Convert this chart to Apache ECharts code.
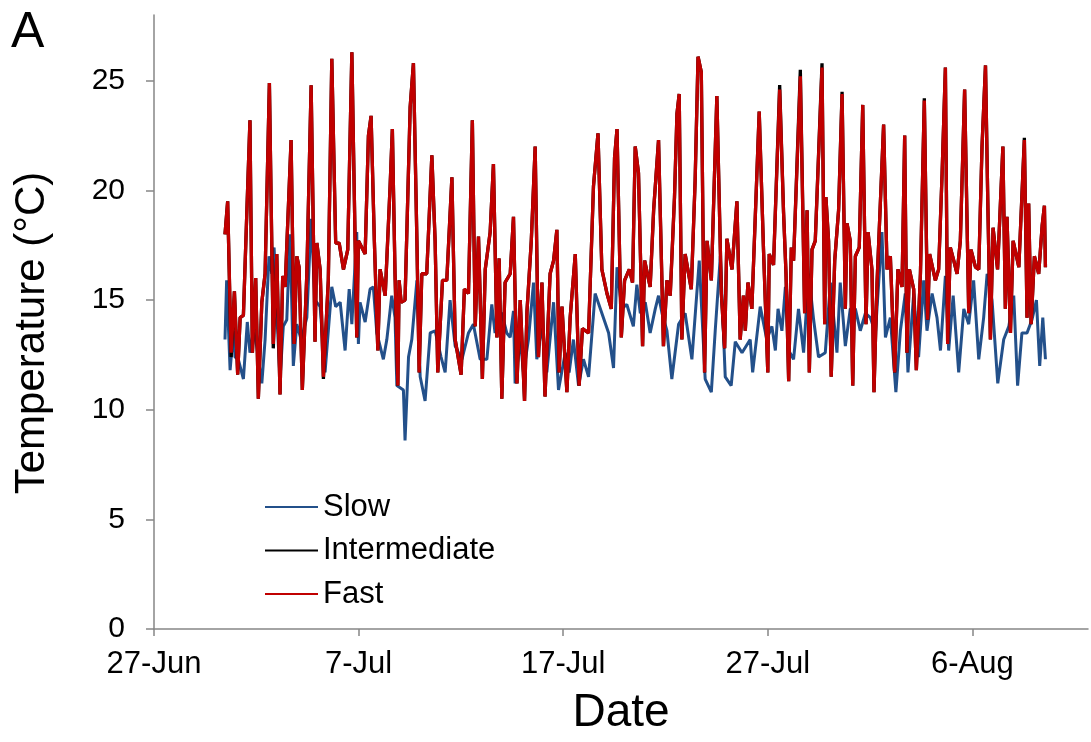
<!DOCTYPE html>
<html>
<head>
<meta charset="utf-8">
<script src="https://cdn.jsdelivr.net/npm/echarts@6/dist/echarts.min.js"></script>
<style>
html,body{margin:0;padding:0;background:#fff;}
#chart{width:1091px;height:742px;}
</style>
</head>
<body>
<div id="chart"></div>
<script>
// x values: days since 27-Jun
const tickDays = [0, 10, 20, 30, 40];
const tickLabels = ['27-Jun', '7-Jul', '17-Jul', '27-Jul', '6-Aug'];
const yTicks = [0, 5, 10, 15, 20, 25];
const seriesNames = ['Slow', 'Intermediate', 'Fast'];

const daysSlow = [3.47,3.55,3.72,3.88,3.96,4.12,4.37,4.56,4.69,4.86,5.02,5.27,5.43,5.62,5.76,5.87,6.00,6.16,6.32,6.49,6.65,6.81,6.98,7.19,7.47,7.68,7.87,8.12,8.36,8.52,8.69,8.88,9.10,9.34,9.54,9.67,9.91,
9.99,10.07,10.32,10.56,10.72,10.89,11.21,11.38,11.62,11.78,11.87,12.19,12.27,12.44,12.60,12.85,13.01,13.25,13.50,13.74,14.03,14.23,14.47,14.72,15.05,15.37,15.61,15.94,16.27,16.51,16.67,16.87,
17.00,17.24,17.41,17.57,17.65,17.90,18.06,18.30,18.55,18.71,18.96,19.20,19.53,19.77,20.10,20.29,20.50,20.75,20.99,21.24,21.56,21.89,22.22,22.46,22.63,22.86,23.11,23.43,23.60,
23.77,24.01,24.25,24.50,24.66,24.83,25.07,25.31,25.64,25.96,26.29,26.65,26.94,27.24,27.43,27.68,27.92,28.21,28.41,28.74,29.14,29.26,29.63,29.95,30.20,30.37,30.50,
30.69,30.86,31.02,31.26,31.50,31.75,32.00,32.24,32.48,32.81,33.06,33.38,33.54,33.79,34.03,34.28,34.52,34.77,35.01,35.26,35.58,35.75,35.99,36.26,36.48,36.72,36.85,37.13,37.37,
37.62,37.78,38.03,38.27,38.44,38.68,38.84,39.06,39.33,39.58,39.82,40.06,40.31,40.55,40.72,40.96,41.24,41.53,41.78,42.02,42.21,42.42,42.67,42.91,43.13,43.29,43.44,43.57];

const slow = [13.2,15.9,11.8,13.6,12.4,12.3,11.4,14.0,12.6,13.6,12.9,11.2,13.2,17.0,16.2,17.4,14.4,11.4,13.8,14.1,18.0,12.0,13.9,13.2,14.2,18.7,15.0,14.7,11.7,13.6,15.6,14.7,14.9,12.7,15.5,13.9,18.1,
13.0,14.9,14.0,15.5,15.6,13.5,12.3,13.2,15.2,14.2,11.1,10.9,8.6,12.4,13.2,15.9,11.5,10.4,13.5,13.6,12.4,11.7,15.0,12.9,12.3,13.5,13.9,12.3,12.3,14.8,13.5,14.4,
14.4,13.5,13.3,14.5,11.2,13.2,11.7,13.2,15.8,12.3,13.8,11.7,14.9,10.9,12.6,11.7,13.2,11.1,12.3,11.5,15.3,14.4,13.5,11.9,16.5,14.6,14.8,13.8,15.7,
14.4,14.9,13.5,14.6,15.2,14.4,13.6,11.4,13.9,14.4,12.3,16.8,11.4,10.8,13.6,17.0,11.5,11.1,13.1,12.6,13.2,11.7,14.7,13.2,13.8,12.7,14.6,
13.6,15.6,12.7,12.3,14.6,12.6,16.2,14.1,12.4,12.6,15.8,12.6,15.8,12.9,14.6,14.6,13.6,14.4,14.2,13.5,18.1,13.3,14.2,10.8,13.6,15.3,11.7,15.3,12.4,
15.9,13.6,15.3,14.2,12.7,16.1,12.7,15.2,11.7,14.6,13.9,15.9,12.3,14.2,16.2,15.0,11.2,13.2,13.8,15.2,11.1,13.5,13.5,14.1,15.0,12.0,14.2,12.3];

const daysFast = [3.47,3.60,3.77,3.93,4.09,4.21,4.37,4.53,4.69,4.81,4.97,5.10,5.27,5.43,5.64,5.83,6.00,6.16,6.29,6.41,6.70,6.85,6.98,7.09,7.25,7.47,7.68,7.87,7.96,8.12,8.28,8.52,8.69,8.88,9.05,9.26,9.47,9.67,9.91,
9.99,10.32,10.48,10.61,10.77,10.94,11.05,11.30,11.54,11.65,11.78,11.92,11.98,12.08,12.27,12.52,12.68,12.85,12.96,13.09,13.33,13.58,13.74,13.87,14.10,14.31,14.56,14.72,15.01,15.17,15.37,15.56,15.70,15.86,16.05,16.19,16.43,16.59,
16.76,16.87,17.00,17.16,17.41,17.57,17.74,17.90,18.11,18.23,18.44,18.63,18.79,18.96,19.11,19.36,19.53,19.69,19.80,19.94,20.18,20.34,20.59,20.78,20.94,21.24,21.48,21.70,21.89,22.14,22.35,22.51,22.63,22.84,23.00,23.23,23.39,23.52,
23.68,23.88,23.98,24.25,24.42,24.66,24.90,25.07,25.23,25.44,25.56,25.67,25.80,25.96,26.26,26.45,26.59,26.75,26.91,27.03,27.24,27.51,27.73,27.89,28.00,28.25,28.49,28.65,28.81,28.90,29.03,29.22,29.58,29.79,30.00,30.07,30.28,30.58,
30.77,30.89,31.02,31.15,31.26,31.59,31.80,31.92,32.03,32.16,32.32,32.65,32.78,32.84,32.97,33.10,33.27,33.46,33.63,33.79,33.87,34.03,34.15,34.28,34.47,34.64,34.80,34.90,35.09,35.19,35.34,35.66,35.83,35.99,36.20,36.36,36.56,36.69,36.80,36.92,37.13,
37.26,37.46,37.65,37.81,37.91,38.19,38.35,38.52,38.68,38.79,38.92,39.09,39.25,39.41,39.62,39.82,39.93,40.15,40.31,40.47,40.64,40.75,40.88,41.01,41.23,41.49,41.61,41.69,41.86,41.99,42.27,42.54,42.67,42.75,42.87,43.03,43.24,43.41,43.52,43.57];

const intermediate = [18.0,19.5,12.4,15.4,11.6,14.2,14.3,18.8,23.2,12.6,16.0,10.5,14.9,16.2,24.9,12.8,17.1,10.7,16.1,15.6,22.3,13.0,17.0,16.5,10.9,16.2,24.8,13.1,17.6,16.4,11.4,15.9,26.0,17.6,17.6,16.4,17.3,26.3,13.3,
17.7,17.1,22.5,23.4,17.7,12.7,16.4,15.2,20.2,22.8,16.2,11.1,15.9,14.9,15.0,23.8,25.8,17.7,11.7,16.2,16.2,21.6,17.7,11.7,15.9,15.9,20.6,13.2,11.6,15.5,15.3,23.2,13.8,17.9,11.4,16.4,18.1,21.2,
13.3,16.9,10.5,15.8,16.2,18.8,11.2,15.0,10.4,14.5,17.7,22.0,12.4,15.8,10.6,16.2,16.8,18.2,11.7,14.7,10.8,14.2,17.1,11.1,13.7,13.5,20.2,22.6,16.4,15.3,14.6,21.5,22.8,13.3,15.9,16.4,15.8,22.0,
20.8,12.9,16.8,15.6,19.1,22.3,12.9,15.9,15.2,19.7,23.5,24.4,13.2,17.1,15.5,20.5,26.1,25.4,11.7,17.7,15.9,24.3,15.3,12.8,17.8,16.4,19.5,13.2,15.2,13.6,15.8,14.6,23.6,17.3,11.7,17.1,16.6,24.8,
19.0,16.2,11.3,17.4,16.8,25.5,14.4,19.1,11.7,17.3,17.7,25.8,13.9,19.7,17.7,11.5,16.8,19.1,24.5,14.6,18.5,17.7,11.1,17.0,17.4,23.9,13.9,18.1,16.4,10.8,15.8,23.0,16.4,17.0,11.7,16.4,15.6,22.5,12.6,16.4,15.5,
11.8,16.2,24.2,14.1,17.1,15.9,16.4,20.8,25.6,13.0,17.4,16.8,16.2,17.7,24.6,14.4,17.3,16.5,16.4,22.0,25.7,19.6,13.2,18.3,16.4,22.0,14.6,18.8,13.5,17.7,16.5,22.4,14.2,19.4,13.9,17.0,16.2,18.4,19.3,16.5];

const fast = [18.0,19.5,12.6,15.4,11.6,14.2,14.3,18.8,23.2,12.6,16.0,10.5,14.9,16.2,24.9,13.0,17.1,10.7,16.1,15.6,22.3,13.0,17.0,16.5,10.9,16.2,24.8,13.1,17.6,16.4,11.5,15.9,26.0,17.6,17.6,16.4,17.3,26.3,13.3,
17.7,17.1,22.5,23.4,17.7,12.7,16.4,15.2,20.2,22.8,16.2,11.1,15.9,14.9,15.0,23.8,25.8,17.7,11.7,16.2,16.2,21.6,17.7,11.7,15.9,15.9,20.6,13.2,11.6,15.5,15.3,23.2,13.8,17.9,11.4,16.4,18.1,21.2,
13.3,16.9,10.5,15.8,16.2,18.8,11.2,15.0,10.4,14.5,17.7,22.0,12.4,15.8,10.6,16.2,16.8,18.2,11.7,14.7,10.8,14.2,17.1,11.1,13.7,13.5,20.2,22.6,16.4,15.3,14.6,21.5,22.8,13.3,15.9,16.4,15.8,22.0,
20.8,12.9,16.8,15.6,19.1,22.3,12.9,15.9,15.2,19.7,23.5,24.4,13.2,17.1,15.5,20.5,26.1,25.4,11.7,17.7,15.9,24.3,15.3,12.8,17.8,16.4,19.5,13.2,15.2,13.6,15.8,14.6,23.6,17.3,11.7,17.1,16.6,24.6,
19.0,16.2,11.3,17.4,16.8,25.2,14.4,19.1,11.7,17.3,17.7,25.6,13.9,19.7,17.7,11.5,16.8,19.1,24.4,14.6,18.5,17.7,11.1,17.0,17.4,23.9,13.9,18.1,16.4,10.8,15.8,23.0,16.4,17.0,11.7,16.4,15.6,22.5,12.6,16.4,15.5,
11.8,16.2,24.1,14.1,17.1,15.9,16.4,20.8,25.6,13.0,17.4,16.8,16.2,17.7,24.6,14.4,17.3,16.5,16.4,22.0,25.7,19.6,13.2,18.3,16.4,22.0,14.6,18.8,13.5,17.7,16.5,22.3,14.2,19.4,13.9,17.0,16.2,18.4,19.3,16.5];

const colors = ['#23508a', '#000000', '#c00000'];
const FONT = '"Liberation Sans", Arial, sans-serif';

function zip(xs, ys) { return xs.map((x, i) => [x, ys[i]]); }

const chart = echarts.init(document.getElementById('chart'), null, { renderer: 'canvas' });
chart.setOption({
  animation: false,
  backgroundColor: '#ffffff',
  color: colors,
  title: {
    text: 'A', left: 11, top: 8, padding: 0,
    textStyle: { fontFamily: FONT, fontSize: 50, fontWeight: 'normal', color: '#000', lineHeight: 50 }
  },
  grid: { left: 154, right: 3, top: 15, bottom: 113, containLabel: false },
  legend: {
    orient: 'vertical', left: 265, top: 491, padding: 0,
    icon: 'rect', itemWidth: 53, itemHeight: 2, itemGap: 11.5,
    textStyle: { fontFamily: FONT, fontSize: 31, color: '#000', lineHeight: 32 },
    data: seriesNames
  },
  xAxis: {
    type: 'value', min: 0, max: 45.65,
    name: 'Date', nameLocation: 'middle', nameGap: 61,
    nameTextStyle: { fontFamily: FONT, fontSize: 46, color: '#000', lineHeight: 46 },
    axisLine: { show: true, onZero: false, lineStyle: { color: '#868686', width: 1.5 } },
    axisTick: { show: true, inside: false, length: 7, customValues: tickDays, lineStyle: { color: '#868686', width: 1.5 } },
    axisLabel: {
      customValues: tickDays, margin: 20,
      fontFamily: FONT, fontSize: 31, color: '#000', lineHeight: 31,
      formatter: v => { const i = tickDays.indexOf(v); return i >= 0 ? tickLabels[i] : ''; }
    },
    splitLine: { show: false }
  },
  yAxis: {
    type: 'value', min: 0, max: 28,
    name: 'Temperature (°C)', nameLocation: 'middle', nameGap: 100,
    nameTextStyle: { fontFamily: FONT, fontSize: 42, color: '#000', lineHeight: 44, padding: [0, 22, 0, 0] },
    axisLine: { show: true, lineStyle: { color: '#868686', width: 1.5 } },
    axisTick: { show: true, inside: false, length: 8, customValues: yTicks, lineStyle: { color: '#868686', width: 1.5 } },
    axisLabel: { customValues: yTicks, margin: 29, fontFamily: FONT, fontSize: 30, color: '#000' },
    splitLine: { show: false }
  },
  series: [
    { name: seriesNames[0], type: 'line', data: zip(daysSlow, slow), showSymbol: false, symbol: 'none',
      lineStyle: { width: 3, color: colors[0] }, itemStyle: { color: colors[0] } },
    { name: seriesNames[1], type: 'line', data: zip(daysFast, intermediate), showSymbol: false, symbol: 'none',
      lineStyle: { width: 3.3, color: colors[1] }, itemStyle: { color: colors[1] } },
    { name: seriesNames[2], type: 'line', data: zip(daysFast, fast), showSymbol: false, symbol: 'none',
      lineStyle: { width: 3.3, color: colors[2] }, itemStyle: { color: colors[2] } }
  ]
});
</script>
</body>
</html>
